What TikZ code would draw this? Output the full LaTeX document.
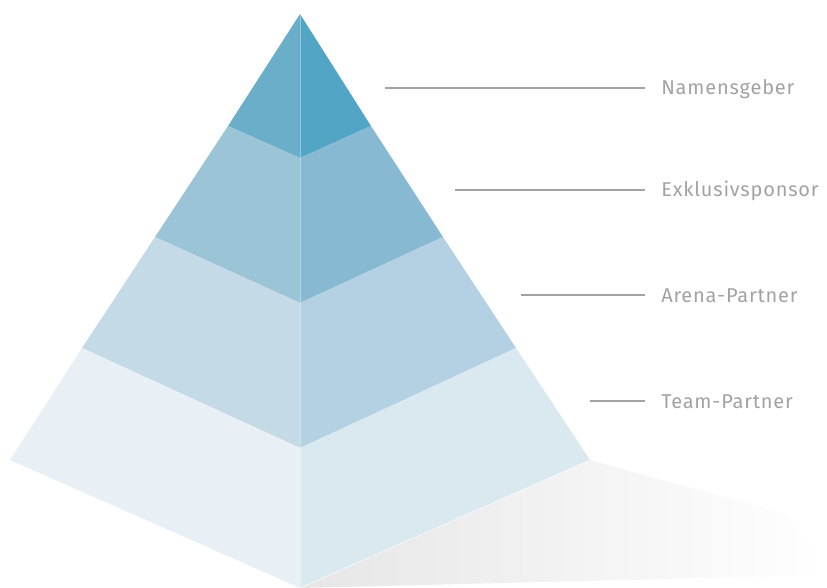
\documentclass[tikz,border=0pt]{standalone}
\usepackage{fontspec}
\setmainfont[LetterSpace=4]{Fira Sans}
\usepackage{xcolor}
\definecolor{topleft}{HTML}{6AAEC9}
\definecolor{topright}{HTML}{52A5C5}
\definecolor{secleft}{HTML}{9BC4D7}
\definecolor{secright}{HTML}{87B9D2}
\definecolor{thirdleft}{HTML}{C5DAE7}
\definecolor{thirdright}{HTML}{B3D1E2}
\definecolor{baseleft}{HTML}{E8F0F6}
\definecolor{baseright}{HTML}{DAE8F0}
\definecolor{labelgrey}{HTML}{A2A2A2}
\definecolor{shadowgrey}{HTML}{E6E6E6}

\begin{document}
\begin{tikzpicture}[
  x=0.75pt, y=-0.75pt,
  face/.style={draw=none},
  tag/.style={anchor=west, inner sep=0pt, text=labelgrey, font=\fontsize{15}{17}\selectfont},
  lead/.style={draw=labelgrey, line width=0.9pt}
]
\useasboundingbox (0,0) rectangle (827,588);

% corners of the pyramid
\coordinate (apex) at (300,14);
\coordinate (l1) at (228,126); \coordinate (l2) at (155,237);
\coordinate (l3) at (82,348);  \coordinate (l4) at (10,460);
\coordinate (r1) at (371,126); \coordinate (r2) at (443,237);
\coordinate (r3) at (516,348); \coordinate (r4) at (590,460);
\coordinate (c1) at (300,158); \coordinate (c2) at (300,303);
\coordinate (c3) at (300,448); \coordinate (c4) at (300,588);

% shadow
\shade[left color=shadowgrey, middle color=shadowgrey!45!white, right color=white, draw=none]
  (c4) -- (r4) -- (785,514) -- (827,566) -- (827,575) -- cycle;

% faces
\fill[face, topleft] (apex) -- (l1) -- (c1) -- cycle;
\fill[face, topright] (apex) -- (r1) -- (c1) -- cycle;
\fill[face, secleft] (l1) -- (l2) -- (c2) -- (c1) -- cycle;
\fill[face, secright] (r1) -- (r2) -- (c2) -- (c1) -- cycle;
\fill[face, thirdleft] (l2) -- (l3) -- (c3) -- (c2) -- cycle;
\fill[face, thirdright] (r2) -- (r3) -- (c3) -- (c2) -- cycle;
\fill[face, baseleft] (l3) -- (l4) -- (c4) -- (c3) -- cycle;
\fill[face, baseright] (r3) -- (r4) -- (c4) -- (c3) -- cycle;
\draw[white, opacity=0.4, line width=0.5pt] (apex) -- (c4);
\draw[white, opacity=0.7, line width=0.5pt] (r4) -- (c4);

% labels
\node[tag] (naming) at (661,89) {Namensgeber};
\node[tag] (exclusive) at (661,191) {Exklusivsponsor};
\node[tag] (arena) at (661,296) {Arena-Partner};
\node[tag] (team) at (661,402) {Team-Partner};

\coordinate (n0) at (385,88); \coordinate (e0) at (455,190);
\coordinate (a0) at (521,295); \coordinate (t0) at (590,401);
\draw[lead] (n0) -- ([xshift=-12pt]naming.west |- n0);
\draw[lead] (e0) -- ([xshift=-12pt]exclusive.west |- e0);
\draw[lead] (a0) -- ([xshift=-12pt]arena.west |- a0);
\draw[lead] (t0) -- ([xshift=-12pt]team.west |- t0);
\end{tikzpicture}
\end{document}
